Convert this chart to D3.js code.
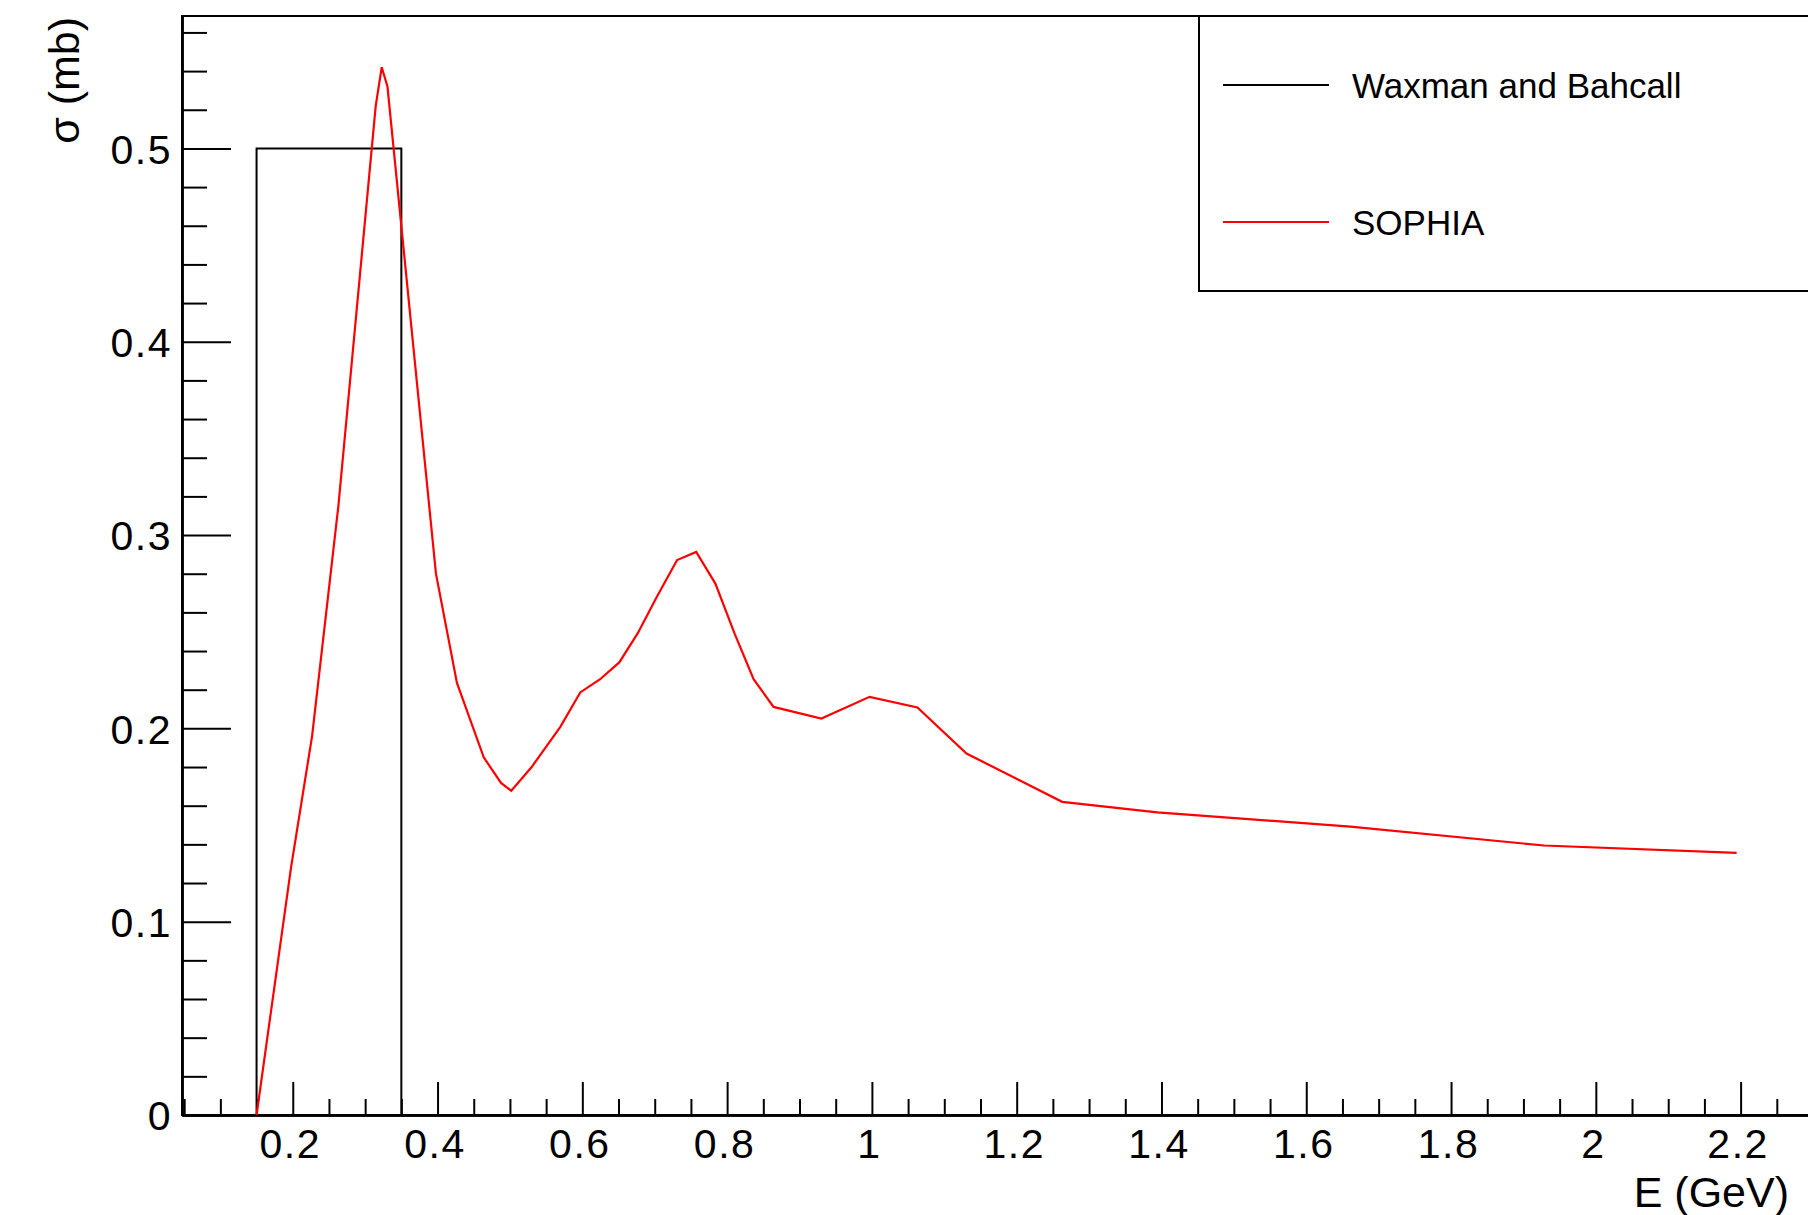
<!DOCTYPE html>
<html>
<head>
<meta charset="utf-8">
<script src="https://cdn.jsdelivr.net/npm/d3@7"></script>
<style>
  html, body { margin: 0; padding: 0; background: #fff; }
  svg { display: block; }
  text { font-family: "Liberation Sans", Arial, Helvetica, sans-serif; fill: #000; }
</style>
</head>
<body>
<svg id="chart" width="1808" height="1215"></svg>
<script>
// ---- data ----
const sophiaE = [0.15, 0.1976, 0.2267, 0.263, 0.3146, 0.3229, 0.3308, 0.3978, 0.4268, 0.4638,
  0.4877, 0.5019, 0.530, 0.5696, 0.5971, 0.6241, 0.6510, 0.6764, 0.7028, 0.7309,
  0.7573, 0.7838, 0.8102, 0.8366, 0.8641, 0.9302, 0.9968, 1.0629, 1.1307, 1.2629,
  1.3942, 1.661, 1.9283, 2.1945];
const sophiaSigma = [0, 0.128, 0.196, 0.315, 0.522, 0.542, 0.532, 0.280, 0.2235, 0.185,
  0.1718, 0.1677, 0.180, 0.2008, 0.2186, 0.2253, 0.2341, 0.2491, 0.268, 0.2871,
  0.2913, 0.2749, 0.2491, 0.2254, 0.2111, 0.2051, 0.2163, 0.2108, 0.1870, 0.162,
  0.1565, 0.1492, 0.1394, 0.1356];
const waxmanE = [0.15, 0.15, 0.35, 0.35];
const waxmanSigma = [0, 0.5, 0.5, 0];

const seriesNames = ["Waxman and Bahcall", "SOPHIA"];
const seriesColors = ["#000000", "#ff0000"];

const xMajorTicks = [0.2, 0.4, 0.6, 0.8, 1.0, 1.2, 1.4, 1.6, 1.8, 2.0, 2.2];
const xMinorTicks = [0.05, 0.1, 0.15, 0.25, 0.3, 0.35, 0.45, 0.5, 0.55, 0.65, 0.7, 0.75,
  0.85, 0.9, 0.95, 1.05, 1.1, 1.15, 1.25, 1.3, 1.35, 1.45, 1.5, 1.55, 1.65, 1.7, 1.75,
  1.85, 1.9, 1.95, 2.05, 2.1, 2.15, 2.25];
const yMajorTicks = [0, 0.1, 0.2, 0.3, 0.4, 0.5];
const yMinorTicks = [0.02, 0.04, 0.06, 0.08, 0.12, 0.14, 0.16, 0.18, 0.22, 0.24, 0.26, 0.28,
  0.32, 0.34, 0.36, 0.38, 0.42, 0.44, 0.46, 0.48, 0.52, 0.54, 0.56];
const xTitle = "E (GeV)";
const yTitle = "σ (mb)";
const xDomain = [0.047, 2.3];
const yDomain = [0, 0.5685];

// ---- layout ----
const svg = d3.select("#chart");
const padL = 182, padR = 1813, padT = 16, padB = 1115;
const x = d3.scaleLinear().domain(xDomain).range([padL, padR]);
const y = d3.scaleLinear().domain(yDomain).range([padB, padT]);
const fmt = d3.format("~g");

// frame
svg.append("rect").attr("x", padL).attr("y", padT)
  .attr("width", padR - padL).attr("height", padB - padT)
  .attr("fill", "none").attr("stroke", "#000").attr("stroke-width", 2);

// axes
function styleAxis(g) {
  g.selectAll(".domain").attr("stroke", "#000").attr("stroke-width", 2.5);
  g.selectAll(".tick line").attr("stroke", "#000").attr("stroke-width", 2);
}
const xMajor = svg.append("g").attr("transform", `translate(0,${padB})`)
  .call(d3.axisBottom(x).tickValues(xMajorTicks).tickSizeInner(-33).tickSizeOuter(0)
    .tickPadding(0).tickFormat(fmt));
styleAxis(xMajor);
xMajor.selectAll(".tick text").attr("font-size", 41).attr("dy", null).attr("y", 43)
  .attr("dx", -3).attr("letter-spacing", 1.5)
  .attr("font-family", "Liberation Sans, Arial, sans-serif");
const xMinor = svg.append("g").attr("transform", `translate(0,${padB})`)
  .call(d3.axisBottom(x).tickValues(xMinorTicks).tickSizeInner(-16).tickSizeOuter(0).tickFormat(""));
styleAxis(xMinor);

const yMajor = svg.append("g").attr("transform", `translate(${padL},0)`)
  .call(d3.axisLeft(y).tickValues(yMajorTicks).tickSizeInner(-49).tickSizeOuter(0)
    .tickPadding(0).tickFormat(fmt));
styleAxis(yMajor);
yMajor.selectAll(".tick text").attr("font-size", 41).attr("x", -10).attr("dy", "0.36em")
  .attr("letter-spacing", 1.5)
  .attr("font-family", "Liberation Sans, Arial, sans-serif");
const yMinor = svg.append("g").attr("transform", `translate(${padL},0)`)
  .call(d3.axisLeft(y).tickValues(yMinorTicks).tickSizeInner(-25).tickSizeOuter(0).tickFormat(""));
styleAxis(yMinor);

// titles
svg.append("text").attr("x", 1789).attr("y", 1207).attr("text-anchor", "end")
  .attr("font-size", 43).text(xTitle);
svg.append("text").attr("transform", "translate(79,17) rotate(-90)")
  .attr("text-anchor", "end").attr("font-size", 43).text(yTitle);

// series
const line = d3.line().x(d => x(d[0])).y(d => y(d[1]));
const wax = waxmanE.map((e, i) => [e, waxmanSigma[i]]);
const sop = sophiaE.map((e, i) => [e, sophiaSigma[i]]);
svg.append("path").attr("d", line(wax)).attr("fill", "none")
  .attr("stroke", seriesColors[0]).attr("stroke-width", 2);
svg.append("path").attr("d", line(sop)).attr("fill", "none")
  .attr("stroke", seriesColors[1]).attr("stroke-width", 2.2).attr("stroke-linejoin", "miter");

// legend
const lg = svg.append("g");
lg.append("rect").attr("x", 1199).attr("y", padT).attr("width", 700).attr("height", 291 - padT)
  .attr("fill", "#fff").attr("stroke", "#000").attr("stroke-width", 2);
const legendY = [85, 222];
seriesNames.forEach((name, i) => {
  lg.append("line").attr("x1", 1223).attr("x2", 1329).attr("y1", legendY[i]).attr("y2", legendY[i])
    .attr("stroke", seriesColors[i]).attr("stroke-width", 2);
  lg.append("text").attr("x", 1352).attr("y", legendY[i] + 13).attr("font-size", 35).text(name);
});
</script>
</body>
</html>
